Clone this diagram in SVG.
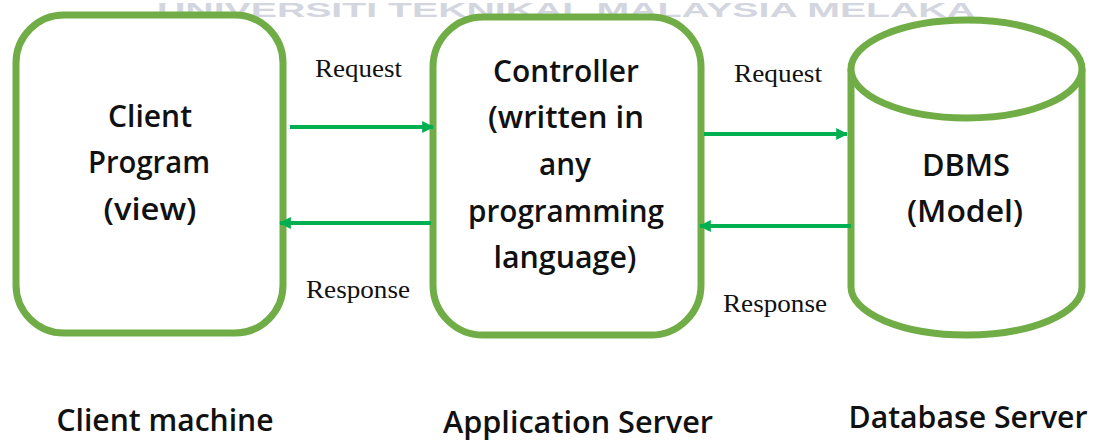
<svg xmlns="http://www.w3.org/2000/svg" width="1094" height="441" viewBox="0 0 1094 441">
<style>
.node{fill:#ffffff;stroke:#70ad47;stroke-width:7}
.lbl{font-family:"Open Sans","Lato",sans-serif;font-weight:600;font-size:31px;fill:#111111;text-anchor:middle}
.cap{font-family:"Open Sans","Lato",sans-serif;font-weight:600;font-size:30px;fill:#111111;text-anchor:middle}
.edge{font-family:"Liberation Serif","Times New Roman",serif;font-size:26px;fill:#111111}
.wire{stroke:#00b050;stroke-width:4;fill:none}
.wm{font-family:"Liberation Sans",Arial,sans-serif;font-weight:bold;font-size:21px;fill:#d3d6de}
</style>
<defs>
<marker id="ah" viewBox="0 0 10 10" refX="9" refY="5" markerWidth="3" markerHeight="3.2" orient="auto" markerUnits="strokeWidth">
<path d="M0,0 L10,5 L0,10 z" fill="#00b050"/>
</marker>
</defs>
<rect width="1094" height="441" fill="#ffffff"/>
<text class="wm" x="157" y="17" textLength="818" lengthAdjust="spacingAndGlyphs">UNIVERSITI TEKNIKAL MALAYSIA MELAKA</text>

<g id="client">
<rect class="node" x="16" y="15" width="267" height="318" rx="48" ry="48"/>
<text class="lbl" x="150" y="127" textLength="84" lengthAdjust="spacingAndGlyphs">Client</text>
<text class="lbl" x="149" y="173" textLength="122" lengthAdjust="spacingAndGlyphs">Program</text>
<text class="lbl" x="150" y="220" textLength="93" lengthAdjust="spacingAndGlyphs">(view)</text>
</g>

<g id="controller">
<rect class="node" x="433" y="17" width="268" height="318" rx="50" ry="50"/>
<text class="lbl" x="566" y="82" textLength="146" lengthAdjust="spacingAndGlyphs">Controller</text>
<text class="lbl" x="566" y="128" textLength="156" lengthAdjust="spacingAndGlyphs">(written in</text>
<text class="lbl" x="565" y="175" textLength="52" lengthAdjust="spacingAndGlyphs">any</text>
<text class="lbl" x="566" y="222" textLength="196" lengthAdjust="spacingAndGlyphs">programming</text>
<text class="lbl" x="565" y="268" textLength="143" lengthAdjust="spacingAndGlyphs">language)</text>
</g>

<g id="dbms">
<path class="node" d="M851,69 L851,287 A115.5,48 0 0 0 1082,287 L1082,69 A115.5,49 0 0 0 851,69 Z"/>
<path class="node" fill="none" d="M851,69 A115.5,49 0 0 0 1082,69"/>
<text class="lbl" x="966" y="176" textLength="88" lengthAdjust="spacingAndGlyphs">DBMS</text>
<text class="lbl" x="965" y="222" textLength="116" lengthAdjust="spacingAndGlyphs">(Model)</text>
</g>

<g id="connectors">
<line class="wire" x1="290" y1="127" x2="433" y2="127" marker-end="url(#ah)"/>
<line class="wire" x1="431" y1="223" x2="280" y2="223" marker-end="url(#ah)"/>
<line class="wire" x1="704" y1="134" x2="847" y2="134" marker-end="url(#ah)"/>
<line class="wire" x1="851" y1="226" x2="700" y2="226" marker-end="url(#ah)"/>
<text class="edge" x="315" y="77" textLength="87" lengthAdjust="spacingAndGlyphs">Request</text>
<text class="edge" x="306" y="298" textLength="104" lengthAdjust="spacingAndGlyphs">Response</text>
<text class="edge" x="734" y="82" textLength="88" lengthAdjust="spacingAndGlyphs">Request</text>
<text class="edge" x="723" y="312" textLength="104" lengthAdjust="spacingAndGlyphs">Response</text>
</g>

<g id="captions">
<text class="cap" x="165" y="431" textLength="217" lengthAdjust="spacingAndGlyphs">Client machine</text>
<text class="cap" x="578" y="433" textLength="270" lengthAdjust="spacingAndGlyphs">Application Server</text>
<text class="cap" x="968" y="428" textLength="239" lengthAdjust="spacingAndGlyphs">Database Server</text>
</g>
</svg>
